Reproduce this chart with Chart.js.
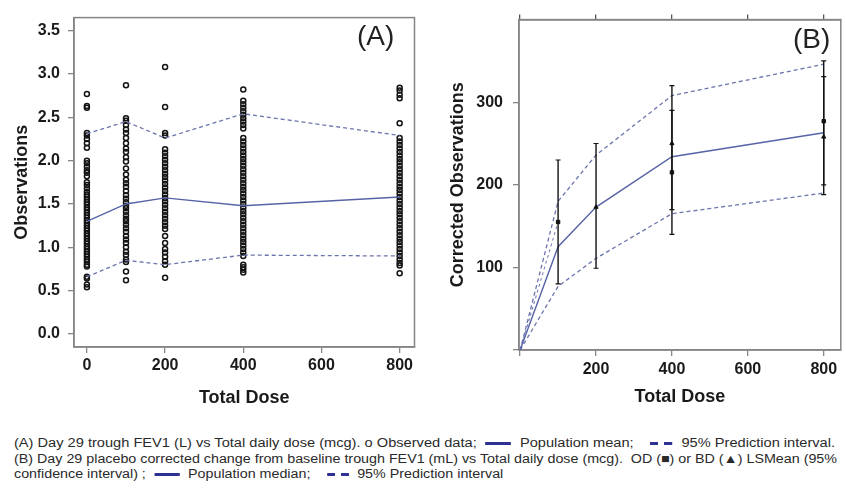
<!DOCTYPE html>
<html>
<head>
<meta charset="utf-8">
<title>FEV1 dose response</title>
<script src="https://cdn.jsdelivr.net/npm/chart.js@4.4.1/dist/chart.umd.min.js"></script>
<style>
    body { margin: 0; background: #fff; width: 846px; height: 491px; overflow: hidden; position: relative;
           font-family: "Liberation Sans", Arial, sans-serif; }
    #wrapA { position: absolute; left: 0; top: 0; width: 420px; height: 410px; }
    #wrapB { position: absolute; left: 420px; top: 0; width: 426px; height: 410px; }
    .tag { position: absolute; font-size: 28px; line-height: 28px; color: #222; }
    .caption { position: absolute; left: 14px; top: 436px; font-size: 12.5px; line-height: 15.5px; color: #2a2a2a; }
    .caption div { white-space: nowrap; height: 15.5px; }
    .caption .ln { display: inline-block; transform-origin: 0 50%; }
    .bar { display: inline-block; width: 22px; height: 3px; background: #2e3192; vertical-align: middle; margin: 0 4px; }
    .dash { display: inline-block; width: 19px; height: 3px; vertical-align: middle; margin: 0 4px;
            background: linear-gradient(to right, #2e3192 0 7px, transparent 7px 12px, #2e3192 12px 19px); }
</style>
</head>
<body>
<div id="wrapA"><canvas id="chartA"></canvas></div>
<div id="wrapB"><canvas id="chartB"></canvas></div>
<div class="tag" style="left:357px; top:22px;">(A)</div>
<div class="tag" style="left:793px; top:25px;">(B)</div>
<div class="caption">
    <div><span class="ln" data-w="821">(A) Day 29 trough FEV1 (L) vs Total daily dose (mcg). o Observed data; <i class="bar"></i> Population mean; &nbsp; <i class="dash"></i> 95% Prediction interval.</span></div>
    <div><span class="ln" data-w="823">(B) Day 29 placebo corrected change from baseline trough FEV1 (mL) vs Total daily dose (mcg).&nbsp; OD (■) or BD (▲) LSMean (95%</span></div>
    <div><span class="ln" data-same="1">confidence interval) ; <i class="bar"></i> Population median; &nbsp; <i class="dash"></i> 95% Prediction interval</span></div>
</div>
<script>
// Dose levels (mcg, total daily)
const doseLevels = [0, 100, 200, 400, 800];
const doseTicks = [0, 200, 400, 600, 800];

// Panel A: observed trough FEV1 (L) by dose
const obsDose0 = [2.77, 2.63, 2.61, 2.32, 2.29, 2.25, 2.20, 2.15, 2.00, 1.97, 1.93, 1.89, 1.86, 1.82, 1.75, 1.72,
    1.68, 1.64, 1.61, 1.58, 1.55, 1.52, 1.49, 1.46, 1.43, 1.40, 1.37, 1.34, 1.31, 1.28, 1.25, 1.22, 1.19, 1.16,
    1.13, 1.10, 1.07, 1.04, 1.01, 0.98, 0.95, 0.92, 0.89, 0.86, 0.83, 0.80, 0.78, 0.66, 0.64, 0.57, 0.54];
const obsDose100 = [2.87, 2.49, 2.46, 2.41, 2.36, 2.32, 2.26, 2.20, 2.14, 2.10, 2.04, 1.99, 1.91, 1.84, 1.78,
    1.74, 1.70, 1.65, 1.60, 1.56, 1.52, 1.48, 1.45, 1.41, 1.37, 1.33, 1.30, 1.26, 1.22, 1.18, 1.13, 1.09, 1.05,
    1.00, 0.95, 0.91, 0.86, 0.83, 0.72, 0.62];
const obsDose200 = [3.08, 2.62, 2.32, 2.29, 2.13, 2.09, 2.05, 2.01, 1.97, 1.93, 1.89, 1.85, 1.81, 1.77, 1.73,
    1.69, 1.65, 1.61, 1.57, 1.53, 1.49, 1.45, 1.41, 1.37, 1.33, 1.29, 1.25, 1.21, 1.13, 1.05, 0.98, 0.94, 0.89,
    0.84, 0.80, 0.65];
const obsDose400 = [2.82, 2.69, 2.65, 2.61, 2.57, 2.53, 2.49, 2.45, 2.41, 2.37, 2.26, 2.22, 2.18, 2.14, 2.10,
    2.06, 2.02, 1.98, 1.94, 1.90, 1.86, 1.82, 1.78, 1.74, 1.70, 1.66, 1.62, 1.58, 1.54, 1.50, 1.46, 1.42, 1.38,
    1.34, 1.30, 1.26, 1.22, 1.18, 1.14, 1.10, 1.06, 1.02, 0.98, 0.94, 0.90, 0.80, 0.77, 0.74, 0.71];
const obsDose800 = [2.84, 2.81, 2.76, 2.72, 2.43, 2.26, 2.22, 2.18, 2.14, 2.10, 2.06, 2.02, 1.98, 1.94, 1.90,
    1.86, 1.82, 1.78, 1.74, 1.70, 1.66, 1.62, 1.58, 1.54, 1.50, 1.46, 1.42, 1.38, 1.34, 1.30, 1.26, 1.22, 1.18,
    1.14, 1.10, 1.06, 1.02, 0.98, 0.94, 0.90, 0.86, 0.82, 0.79, 0.70];
const meanA = [1.30, 1.50, 1.57, 1.48, 1.58];
const upperA = [2.31, 2.45, 2.26, 2.54, 2.29];
const lowerA = [0.66, 0.85, 0.80, 0.91, 0.90];
const yTicksA = [0.0, 0.5, 1.0, 1.5, 2.0, 2.5, 3.0, 3.5];

// Panel B: placebo corrected change (mL)
const medianB = [0, 125, 173, 234, 263];
const upperB = [0, 180, 236, 308, 346];
const lowerB = [0, 77, 111, 165, 190];
const earlyLinkDose = [0, 100];
const earlyLinkValue = [0, 155];
const ciDose = [100, 200, 400, 400, 800, 800];
const ciRegimen = ['OD', 'BD', 'OD', 'BD', 'OD', 'BD'];
const ciMean = [155, 173, 215, 250, 277, 258];
const ciLow = [80, 99, 140, 170, 200, 188];
const ciHigh = [230, 250, 290, 320, 350, 331];
const yTicksB = [0, 100, 200, 300];

const FONT = '"Liberation Sans", Arial, sans-serif';
const AXIS_GREY = '#858585';
const toXY = (xs, ys) => xs.map((x, i) => ({ x: x, y: ys[i] }));

// frame round the plot area
const boxPlugin = {
    id: 'box',
    beforeDatasetsDraw(chart) {
        const { ctx, chartArea: a } = chart;
        ctx.save();
        ctx.strokeStyle = AXIS_GREY;
        ctx.lineWidth = 1.5;
        ctx.strokeRect(a.left, a.top, a.right - a.left, a.bottom - a.top);
        ctx.restore();
    }
};

function fixedTicks(values) {
    return scale => { scale.ticks = values.map(v => ({ value: v })); };
}

function baseAxis(extra) {
    return Object.assign({
        type: 'linear',
        grid: { drawOnChartArea: false, drawTicks: true, tickLength: 6, color: AXIS_GREY, lineWidth: 1.3 },
        border: { display: true, color: AXIS_GREY, width: 1.5 },
    }, extra);
}

const tickFont = { family: FONT, size: 16, weight: 'bold' };
const titleFont = { family: FONT, size: 18, weight: 'bold' };

// ---- Panel A ----
const obsByDose = [obsDose0, obsDose100, obsDose200, obsDose400, obsDose800];
const obsPoints = obsByDose.flatMap((vals, i) => vals.map(v => ({ x: doseLevels[i], y: v })));

new Chart(document.getElementById('chartA'), {
    data: {
        datasets: [
            { type: 'line', data: toXY(doseLevels, meanA), borderColor: '#5763a6', borderWidth: 1.4, pointRadius: 0, tension: 0 },
            { type: 'line', data: toXY(doseLevels, upperA), borderColor: '#6b74ad', borderWidth: 1.3, borderDash: [4, 3], pointRadius: 0 },
            { type: 'line', data: toXY(doseLevels, lowerA), borderColor: '#6b74ad', borderWidth: 1.3, borderDash: [4, 3], pointRadius: 0 },
            { type: 'scatter', data: obsPoints, pointStyle: 'circle', pointRadius: 2.5, borderWidth: 1.5,
              borderColor: '#141414', backgroundColor: 'rgba(255,255,255,0)' }
        ]
    },
    options: {
        animation: false,
        responsive: true,
        maintainAspectRatio: false,
        events: [],
        layout: { padding: { top: 13, right: 5, left: 0, bottom: 0 } },
        plugins: { legend: { display: false }, tooltip: { enabled: false } },
        scales: {
            x: baseAxis({
                min: -33, max: 838,
                afterBuildTicks: fixedTicks(doseTicks),
                afterFit: s => { s.height = 63; },
                ticks: { font: tickFont, color: '#1a1a1a', padding: 3, maxRotation: 0 },
                title: { display: true, text: 'Total Dose', font: titleFont, color: '#1a1a1a', padding: { top: 0, bottom: 1 } }
            }),
            y: baseAxis({
                min: -0.15, max: 3.65,
                afterBuildTicks: fixedTicks(yTicksA),
                afterFit: s => { s.width = 74; },
                ticks: { font: tickFont, color: '#1a1a1a', padding: 8, callback: v => v.toFixed(1) },
                title: { display: true, text: 'Observations', font: titleFont, color: '#1a1a1a', padding: { top: 11, bottom: 0 } }
            })
        }
    },
    plugins: [boxPlugin]
});

// ---- Panel B ----
const ciBars = ciDose.map((d, i) => ({
    type: 'line',
    data: [{ x: d, y: ciLow[i] }, { x: d, y: ciHigh[i] }],
    borderColor: '#111',
    borderWidth: 1.4,
    pointStyle: 'line',
    pointRadius: 2.5,
    pointBorderColor: '#111',
    pointBorderWidth: 1.2
}));

new Chart(document.getElementById('chartB'), {
    data: {
        datasets: [
            { type: 'scatter', data: toXY(ciDose, ciMean), pointStyle: ciRegimen.map(r => r === 'OD' ? 'rect' : 'triangle'),
              pointRadius: 2.4, backgroundColor: '#111', borderColor: '#111', borderWidth: 1 },
            ...ciBars,
            { type: 'line', data: toXY(doseLevels, medianB), borderColor: '#5763a6', borderWidth: 1.4, pointRadius: 0 },
            { type: 'line', data: toXY(doseLevels, upperB), borderColor: '#6b74ad', borderWidth: 1.3, borderDash: [4, 3], pointRadius: 0 },
            { type: 'line', data: toXY(doseLevels, lowerB), borderColor: '#6b74ad', borderWidth: 1.3, borderDash: [4, 3], pointRadius: 0 },
            { type: 'line', data: toXY(earlyLinkDose, earlyLinkValue), borderColor: '#7a82b6', borderWidth: 1.1, borderDash: [3, 3], pointRadius: 0 }
        ]
    },
    options: {
        animation: false,
        responsive: true,
        maintainAspectRatio: false,
        events: [],
        layout: { padding: { top: 0, right: 2, left: 0, bottom: 0 } },
        plugins: { legend: { display: false }, tooltip: { enabled: false } },
        scales: {
            x: baseAxis({
                position: 'bottom',
                min: -3, max: 845,
                afterBuildTicks: fixedTicks(doseTicks),
                afterFit: s => { s.height = 60; },
                ticks: { font: tickFont, color: '#1a1a1a', padding: 4, maxRotation: 0, callback: v => v === 0 ? '' : v },
                title: { display: true, text: 'Total Dose', font: titleFont, color: '#1a1a1a', padding: { top: 0, bottom: 2 } }
            }),
            x2: baseAxis({
                position: 'top',
                min: -3, max: 845,
                afterBuildTicks: fixedTicks(doseTicks),
                afterFit: s => { s.height = 14; },
                grid: { drawOnChartArea: false, drawTicks: true, tickLength: 5, color: '#555', lineWidth: 1.3 },
                border: { display: true, color: '#555', width: 1.5 },
                ticks: { callback: () => '' }
            }),
            y: baseAxis({
                min: 0, max: 400,
                afterBuildTicks: fixedTicks(yTicksB),
                afterFit: s => { s.width = 99; },
                ticks: { font: tickFont, color: '#1a1a1a', padding: 10, callback: v => v === 0 ? '' : v },
                title: { display: true, text: 'Corrected Observations', font: titleFont, color: '#1a1a1a', padding: { top: 27, bottom: 0 } }
            })
        }
    },
    plugins: [boxPlugin]
});

// squeeze caption lines to the narrow width of the original typeface
let lastScale = 1;
document.querySelectorAll('.caption .ln').forEach(el => {
    const w = el.getBoundingClientRect().width;
    const target = parseFloat(el.dataset.w);
    const s = target ? target / w : lastScale;
    el.style.transform = 'scaleX(' + s + ')';
    lastScale = s;
});
</script>
</body>
</html>
